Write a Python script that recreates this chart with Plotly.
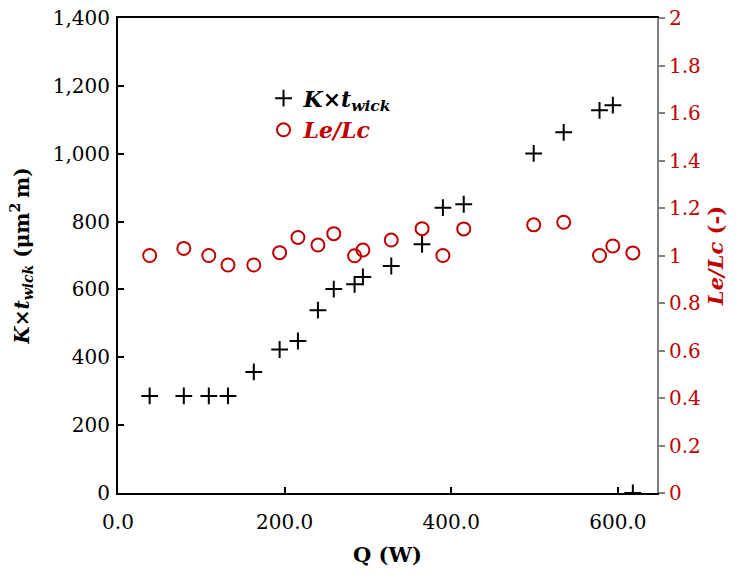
import plotly.graph_objects as go

# Heat input (W) for each test point
q_watts = [38, 79, 109, 132, 163, 194, 216, 240, 259, 284, 294, 328, 365, 390, 415, 499, 535, 578, 594, 618]
# Permeability x wick thickness (um^2 m)
k_twick = [286, 286, 286, 286, 357, 423, 448, 539, 601, 615, 637, 669, 733, 841, 851, 1001, 1063, 1128, 1143, 0]
# Evaporator / condenser length ratio (-)
le_lc = [1.0, 1.03, 1.0, 0.96, 0.96, 1.012, 1.076, 1.044, 1.092, 0.999, 1.023, 1.065, 1.113, 1.0, 1.112, 1.129, 1.14, 1.0, 1.04, 1.011]

x_ticks = [0, 200, 400, 600]
y_ticks = [0, 200, 400, 600, 800, 1000, 1200, 1400]
y2_ticks = [0, 0.2, 0.4, 0.6, 0.8, 1.0, 1.2, 1.4, 1.6, 1.8, 2.0]

RED = "#C00000"
FONT = "DejaVu Serif"

fig = go.Figure()
fig.add_trace(go.Scatter(
    x=q_watts, y=k_twick, mode="markers",
    name="<b><i>K</i>×<i>t<sub>wick</sub></i></b>",
    marker=dict(symbol="cross-thin", size=12, line=dict(color="black", width=2)),
))
fig.add_trace(go.Scatter(
    x=q_watts, y=le_lc, mode="markers", yaxis="y2",
    name=f"<span style='color:{RED}'><b><i>Le/Lc</i></b></span>",
    marker=dict(symbol="circle-open", size=13, color=RED, line=dict(color=RED, width=2)),
))

fig.update_layout(
    width=746, height=584,
    margin=dict(l=118, r=89, t=18, b=91, autoexpand=False),
    paper_bgcolor="white", plot_bgcolor="white",
    font=dict(family=FONT, size=20, color="black"),
    showlegend=True,
    legend=dict(x=0.27, y=0.875, xanchor="left", yanchor="top",
                bgcolor="rgba(0,0,0,0)", font=dict(family=FONT, size=22),
                itemsizing="trace", tracegroupgap=0),
    xaxis=dict(
        range=[0, 647], tickvals=x_ticks, tickformat=".1f",
        showgrid=False, zeroline=False,
        showline=True, linecolor="black", linewidth=2, mirror=True,
        ticks="inside", ticklen=6, tickwidth=2, tickcolor="black",
        ticklabelstandoff=10,
        title=dict(text="<b>Q (W)</b>", font=dict(size=21), standoff=14),
    ),
    yaxis=dict(
        range=[0, 1400], tickvals=y_ticks, tickformat=",d",
        showgrid=False, zeroline=False,
        showline=True, linecolor="black", linewidth=2,
        ticks="inside", ticklen=6, tickwidth=2, tickcolor="black",
        ticklabelstandoff=2,
        title=dict(text="<b><i>K</i>×<i>t<sub>wick</sub></i> (μm<sup>2 </sup>m)</b>",
                   font=dict(size=20), standoff=18),
    ),
    yaxis2=dict(
        overlaying="y", side="right",
        range=[0, 2], tickvals=y2_ticks,
        showgrid=False, zeroline=False,
        showline=True, linecolor="#808080", linewidth=2,
        ticks="outside", ticklen=6, tickwidth=2, tickcolor="#808080",
        tickfont=dict(color=RED),
        title=dict(text="<b><i>Le/Lc</i> (-)</b>", font=dict(color=RED, size=21), standoff=8),
    ),
)

fig.write_html("out.html")
